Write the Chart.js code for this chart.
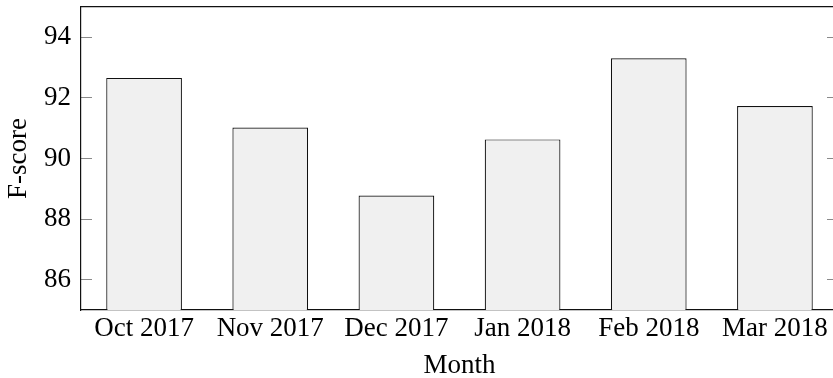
<!DOCTYPE html>
<html>
<head>
<meta charset="utf-8">
<script src="https://cdn.jsdelivr.net/npm/chart.js@4/dist/chart.umd.min.js"></script>
<style>
  html, body { margin: 0; padding: 0; background: #fff; overflow: hidden; }
  #wrap { position: absolute; left: 0; top: 0; width: 840px; height: 378px; }
</style>
</head>
<body>
<div id="wrap"><canvas id="chart" width="840" height="378"></canvas></div>
<script>
// Monthly F-score
const months = ['Oct 2017', 'Nov 2017', 'Dec 2017', 'Jan 2018', 'Feb 2018', 'Mar 2018'];
const fScores = [92.66, 91.02, 88.78, 90.63, 93.31, 91.73];
const yTicks = [86, 88, 90, 92, 94];
const yMin = 85;
const yMax = 95;

const serif = "'Liberation Serif', 'Times New Roman', serif";
const tickFont = { family: serif, size: 27, lineHeight: 1.2 };

function fixedTicks(scale) {
  scale.ticks = yTicks.map(v => ({ value: v }));
}
function noPad(scale) {
  scale.paddingTop = 0; scale.paddingBottom = 0;
  scale.paddingLeft = 0; scale.paddingRight = 0;
}

Chart.defaults.color = '#000';

new Chart(document.getElementById('chart'), {
  type: 'bar',
  data: {
    labels: months,
    datasets: [{
      data: fScores,
      backgroundColor: '#f0f0f0',
      borderColor: '#111',
      borderWidth: 1.2,
      barPercentage: 0.6,
      categoryPercentage: 1.0
    }]
  },
  options: {
    responsive: false,
    animation: false,
    devicePixelRatio: 1,
    layout: { padding: { top: 7, right: 2, left: 0, bottom: 0 } },
    plugins: { legend: { display: false }, tooltip: { enabled: false } },
    scales: {
      x: {
        type: 'category',
        position: 'bottom',
        offset: true,
        grid: { display: false, drawTicks: false },
        border: { display: true, color: '#111', width: 1.2 },
        ticks: { font: tickFont, padding: 3, maxRotation: 0, autoSkip: false },
        title: {
          display: true, text: 'Month',
          font: { family: serif, size: 27, lineHeight: 0.9 },
          padding: { top: 0, bottom: 0 }
        },
        afterFit(scale) { scale.height = 68; noPad(scale); }
      },
      xTop: {
        type: 'linear',
        axis: 'x',
        position: 'top',
        min: 0, max: 1,
        grid: { display: false, drawTicks: false },
        border: { display: true, color: '#111', width: 1.2 },
        ticks: { display: false },
        afterFit(scale) { scale.height = 0; noPad(scale); }
      },
      y: {
        type: 'linear',
        position: 'left',
        min: yMin, max: yMax,
        afterBuildTicks: fixedTicks,
        grid: { display: true, drawOnChartArea: false, drawTicks: true, tickLength: -11, color: '#8a8a8a', lineWidth: 1 },
        border: { display: true, color: '#111', width: 1.2 },
        ticks: { font: tickFont, padding: 21 },
        title: {
          display: true, text: 'F-score',
          font: { family: serif, size: 27, lineHeight: 0.9 },
          padding: { top: 7, bottom: 0 }
        },
        afterFit(scale) { scale.width = 81; noPad(scale); }
      },
      yRight: {
        type: 'linear',
        axis: 'y',
        position: 'right',
        min: yMin, max: yMax,
        afterBuildTicks: fixedTicks,
        grid: { display: true, drawOnChartArea: false, drawTicks: true, tickLength: -11, color: '#8a8a8a', lineWidth: 1 },
        border: { display: true, color: '#111', width: 1.2 },
        ticks: { display: false },
        afterFit(scale) { scale.width = 0; noPad(scale); }
      }
    }
  }
});
</script>
</body>
</html>
